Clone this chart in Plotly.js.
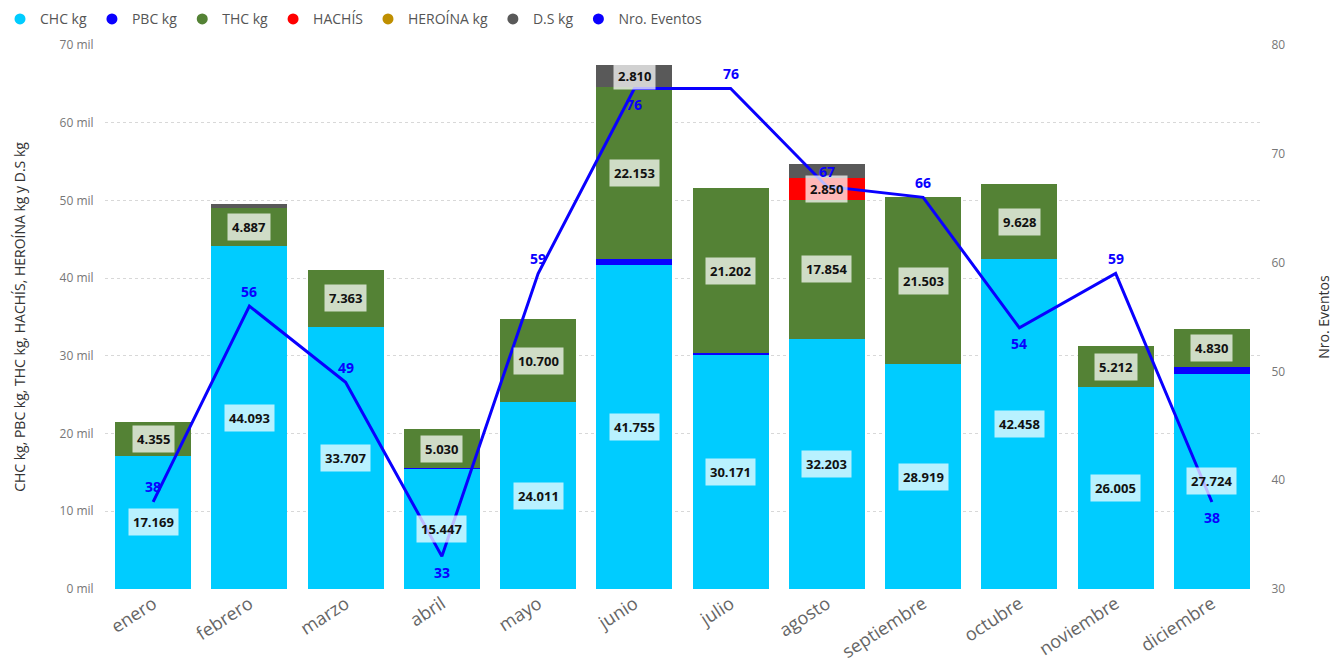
<!DOCTYPE html>
<html><head><meta charset="utf-8">
<script src="https://cdn.plot.ly/plotly-3.0.1.min.js"></script>
<style>html,body{margin:0;padding:0;background:#fff}#chart{width:1336px;height:661px}</style>
</head><body><div id="chart"></div>
<script>
const months = ["enero","febrero","marzo","abril","mayo","junio","julio","agosto","septiembre","octubre","noviembre","diciembre"];
const chc = [17169,44093,33707,15447,24011,41755,30171,32203,28919,42458,26005,27724];
const pbc = [0,0,0,100,0,700,200,0,0,0,0,900];
const thc = [4355,4887,7363,5030,10700,22153,21202,17854,21503,9628,5212,4830];
const hachis = [0,0,0,0,0,0,0,2850,0,0,0,0];
const heroina = [0,0,0,0,0,0,0,0,0,0,0,0];
const ds = [0,500,0,0,0,2810,0,1800,0,0,0,0];
const eventos = [38,56,49,33,59,76,76,67,66,54,59,38];
const eventosLabelAbove = [true,true,true,false,true,false,true,true,true,false,true,false];
const leftTicks = [0,10000,20000,30000,40000,50000,60000,70000];
const leftTickText = ["0 mil","10 mil","20 mil","30 mil","40 mil","50 mil","60 mil","70 mil"];
const rightTicks = [30,40,50,60,70,80];

const series = [
  {name:"CHC kg", vals:chc, color:"#00CCFF"},
  {name:"PBC kg", vals:pbc, color:"#0A00FF"},
  {name:"THC kg", vals:thc, color:"#548235"},
  {name:"HACHÍS", vals:hachis, color:"#FF0000"},
  {name:"HEROÍNA kg", vals:heroina, color:"#BF8F00"},
  {name:"D.S kg", vals:ds, color:"#595959"}
];
const fmt = v => v.toLocaleString("de-DE");
const font = "Open Sans, Noto Sans, sans-serif";
const traces = [];
const annotations = [];
const base = months.map(()=>0);
series.forEach(s=>{
  traces.push({type:"bar", x:months, y:s.vals, name:s.name, marker:{color:s.color}, showlegend:false, hoverinfo:"y+name"});
  s.vals.forEach((v,i)=>{
    if (v >= 2000) {
      annotations.push({x:months[i], y:base[i]+v/2, xref:"x", yref:"y", text:fmt(v), showarrow:false,
        bgcolor:"rgba(255,255,255,0.72)", borderpad:4,
        font:{family:font, size:13, color:"#111", weight:700}});
    }
    base[i]+=v;
  });
});
traces.push({type:"scatter", mode:"lines", x:months, y:eventos, yaxis:"y2", name:"Nro. Eventos",
  line:{color:"#0A00FF", width:3}, showlegend:false, cliponaxis:false});
eventos.forEach((v,i)=>{
  annotations.push({x:months[i], y:v, xref:"x", yref:"y2", text:String(v), showarrow:false,
    yshift: eventosLabelAbove[i] ? 15 : -16,
    font:{family:font, size:14, color:"#0A00FF", weight:700}});
});
// legend entries (circle markers)
series.concat([{name:"Nro. Eventos", color:"#0A00FF"}]).forEach(s=>{
  traces.push({type:"scatter", mode:"markers", x:[null], y:[null], name:s.name, marker:{color:s.color, size:11, symbol:"circle"}, showlegend:true, hoverinfo:"skip"});
});

const layout = {
  width:1336, height:661, barmode:"stack", bargap:0.21,
  paper_bgcolor:"#fff", plot_bgcolor:"#fff",
  margin:{l:105, r:76, t:45, b:72},
  font:{family:font, color:"#666"},
  legend:{orientation:"h", traceorder:"normal", x:0, xref:"container", xanchor:"left", y:0.995, yref:"container", yanchor:"top",
    font:{size:14, color:"#555"}, itemwidth:30, tracegroupgap:0, itemclick:false, bgcolor:"rgba(0,0,0,0)"},
  xaxis:{tickangle:-33, tickfont:{size:18, color:"#666"}, showgrid:false, zeroline:false, showline:false, ticks:"", automargin:false},
  yaxis:{range:[0,70000], tickvals:leftTicks, ticktext:leftTickText, tickfont:{size:12, color:"#777"}, automargin:false,
    showgrid:true, gridcolor:"#d8d8d8", griddash:"dot", gridwidth:1, zeroline:false, ticklen:8, ticks:"outside", tickcolor:"#fff",
    title:{text:"CHC kg, PBC kg, THC kg, HACHÍS, HEROÍNA kg y D.S kg", font:{size:14, color:"#333"}, standoff:30}},
  yaxis2:{range:[30,80], tickvals:rightTicks, overlaying:"y", side:"right", showgrid:false, zeroline:false, automargin:false,
    tickfont:{size:12, color:"#777"}, ticks:"outside", ticklen:8, tickcolor:"#fff",
    title:{text:"Nro. Eventos", font:{size:14, color:"#333"}, standoff:34}},
  annotations:annotations
};
Plotly.newPlot("chart", traces, layout, {displayModeBar:false, staticPlot:true});
</script></body></html>
